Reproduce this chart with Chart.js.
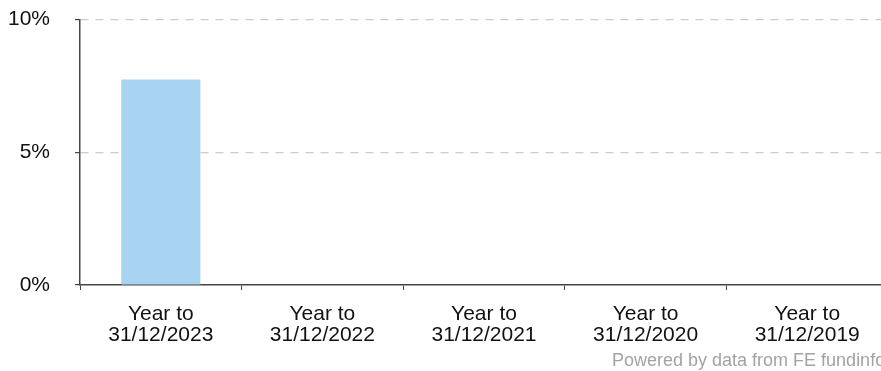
<!DOCTYPE html>
<html>
<head>
<meta charset="utf-8">
<script src="https://cdn.jsdelivr.net/npm/chart.js@4/dist/chart.umd.min.js"></script>
<style>
  html, body { margin: 0; padding: 0; background: #fff; overflow: hidden; }
  #wrap { position: relative; width: 888px; height: 371px; }
  #chart { position: absolute; left: 0; top: -16px; }
  #credit {
    position: absolute; left: 612px; top: 350px;
    font: 18px "Liberation Sans", Arial, sans-serif; color: #a3a3a3;
    white-space: nowrap;
  }
</style>
</head>
<body>
<div id="wrap">
  <canvas id="chart" width="888" height="376"></canvas>
  <div id="credit">Powered by data from FE fundinfo</div>
</div>
<script>
const categories = [
  ["Year to", "31/12/2023"],
  ["Year to", "31/12/2022"],
  ["Year to", "31/12/2021"],
  ["Year to", "31/12/2020"],
  ["Year to", "31/12/2019"]
];
const returns = [7.74, null, null, null, null];
const yTicks = [0, 5, 10];

const font = { family: "'Liberation Sans', Arial, sans-serif", size: 21, lineHeight: 1.0 };
const axisColor = "#444";

new Chart(document.getElementById("chart"), {
  type: "bar",
  data: {
    labels: categories,
    datasets: [{
      data: returns,
      backgroundColor: "#a8d3f1",
      barPercentage: 0.49,
      categoryPercentage: 1
    }]
  },
  options: {
    responsive: false,
    animation: false,
    layout: { padding: { top: 0, right: 0, left: 8, bottom: 0 } },
    plugins: { legend: { display: false }, tooltip: { enabled: false } },
    scales: {
      x: {
        offset: true,
        grid: {
          display: true,
          drawOnChartArea: false,
          offset: true,
          tickLength: 5,
          color: axisColor
        },
        border: { color: axisColor, width: 1.5 },
        ticks: { color: "#111", font: font, padding: 14, maxRotation: 0 }
      },
      y: {
        min: 0,
        max: 10,
        afterBuildTicks: (axis) => { axis.ticks = yTicks.map(v => ({ value: v })); },
        // label column is 42px wide plus 25px gap and 5px tick
        afterFit: (axis) => { axis.width = 72; },
        grid: {
          color: (ctx) => ctx.tick && ctx.tick.value === 0 ? "rgba(0,0,0,0)" : "#cccccc",
          tickColor: axisColor,
          tickLength: 5,
          tickBorderDash: [],
          lineWidth: 1.2
        },
        border: { color: axisColor, width: 1.5, dash: [8, 7] },
        ticks: {
          color: "#111",
          font: font,
          padding: 25,
          callback: (v) => v + "%"
        }
      }
    }
  }
});
</script>
</body>
</html>
